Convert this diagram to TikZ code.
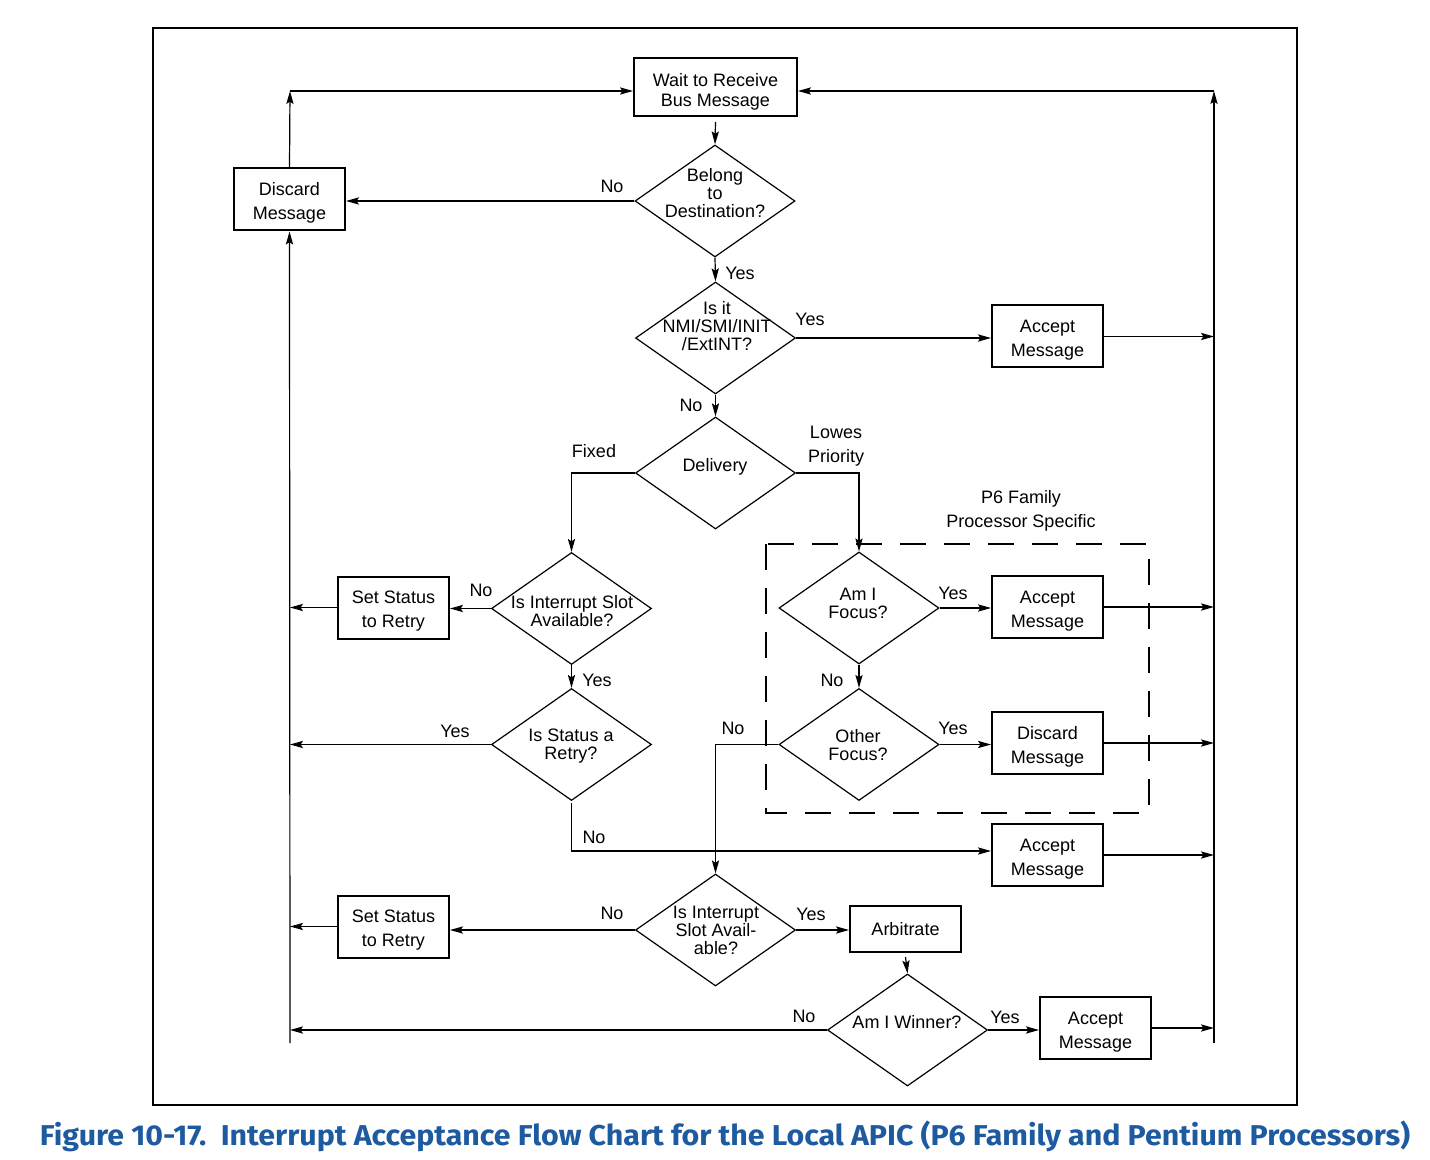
\documentclass[tikz,border=0pt]{standalone}
\usepackage{fontspec}
\usepackage{graphicx}
\setmainfont{Liberation Sans}
\newfontfamily\capfont{Fira Sans}
\usetikzlibrary{shapes.geometric,arrows.meta}
\definecolor{capblue}{RGB}{30,90,160}
\begin{document}
\begin{tikzpicture}[x=0.5pt,y=-0.5pt,
  every node/.style={font=\fontsize{9}{12}\selectfont},
  box/.style={draw, line width=1pt, inner sep=0pt, minimum width=55.5pt, minimum height=31pt, align=center, text height=20pt, text depth=0pt},
  dia/.style={draw, diamond, line width=0.6pt, inner sep=0pt, minimum width=80pt, minimum height=56pt},
  dtxt/.style={align=center, inner sep=0pt, font=\fontsize{9}{9}\selectfont},
  lbl/.style={inner sep=0pt, text height=6.5pt, text depth=0pt},
  arr/.style={line width=0.6pt, -{Stealth[length=6.5pt,width=3.6pt,inset=1.2pt]}},
  ln/.style={line width=0.6pt}]
\useasboundingbox (0,0) rectangle (1430,1160);
% frame
\draw[line width=1pt] (153,28) rectangle (1297,1105);
% dashed region
\draw[line width=1pt, dash pattern=on 13pt off 9pt] (766,544) rectangle (1149,813);
% boxes
\node[box, minimum width=81.5pt, minimum height=29pt, font=\fontsize{9}{10}\selectfont, text height=19.5pt] (wait) at (715.5,87) {Wait to Receive\\Bus Message};
\node[box] (disc1) at (289.5,199.5) {Discard\\Message};
\node[box] (acc1) at (1047.5,336.5) {Accept\\Message};
\node[box] (set1) at (393.5,607.5) {Set Status\\to Retry};
\node[box] (acc2) at (1047.5,607) {Accept\\Message};
\node[box] (disc2) at (1047.5,743) {Discard\\Message};
\node[box] (acc3) at (1047.5,855) {Accept\\Message};
\node[box] (set2) at (393.5,926.5) {Set Status\\to Retry};
\node[box, minimum height=23pt, text height=6.5pt] (arb) at (905.5,929) {Arbitrate};
\node[box] (acc4) at (1095.5,1028) {Accept\\Message};
% diamonds
\node[dia] (belong) at (715,201) {};
\node[dia] (nmi) at (715.5,338) {};
\node[dia] (deliv) at (715.5,473) {};
\node[dia] (islot) at (571.5,608.5) {};
\node[dia] (isstat) at (571.5,744.5) {};
\node[dia] (focus) at (859,608) {};
\node[dia] (other) at (859,744.5) {};
\node[dia] (islot2) at (715.5,930) {};
\node[dia] (win) at (907.5,1030) {};
% diamond texts
\node[dtxt] (tbelong) at (715,193) {Belong\\to\\Destination?};
\node[dtxt] (tnmi) at (717,326) {Is it\\NMI/SMI/INIT\\/ExtINT?};
\node[dtxt] (tdeliv) at (715,467) {Delivery};
\node[dtxt] (tislot) at (572,611) {Is Interrupt Slot\\Available?};
\node[dtxt] (tisstat) at (571,746) {Is Status a\\Retry?};
\node[dtxt] (tfocus) at (858,603) {Am I\\Focus?};
\node[dtxt] (tother) at (858,745) {Other\\Focus?};
\node[dtxt] (tislot2) at (716,930) {Is Interrupt\\Slot Avail-\\able?};
\node[dtxt] (twin) at (907,1022) {Am I Winner?};
% labels
\node[lbl] (l1) at (612,186) {No};
\node[lbl] (l2) at (740,273) {Yes};
\node[lbl] (l3) at (810,319) {Yes};
\node[lbl] (l4) at (691,405) {No};
\node[lbl] (l5) at (594,451) {Fixed};
\node[align=center, inner sep=0pt] (l6) at (836,446) {Lowes\\Priority};
\node[align=center, inner sep=0pt] (l7) at (1021,511) {P6 Family\\Processor Specific};
\node[lbl] (l8) at (481,590) {No};
\node[lbl] (l9) at (597,680) {Yes};
\node[lbl] (l10) at (455,731) {Yes};
\node[lbl] (l11) at (594,837) {No};
\node[lbl] (l12) at (953,593) {Yes};
\node[lbl] (l13) at (832,680) {No};
\node[lbl] (l14) at (733,728) {No};
\node[lbl] (l15) at (953,728) {Yes};
\node[lbl] (l16) at (612,913) {No};
\node[lbl] (l17) at (811,914) {Yes};
\node[lbl] (l18) at (804,1016) {No};
\node[lbl] (l19) at (1005,1017) {Yes};
% bus coordinates
\coordinate (lt) at (290,91);
\coordinate (lb) at (290,1043);
\coordinate (rt) at (1214,91);
\coordinate (rb) at (1214,1043);
% connectors
\draw[arr] ([yshift=-2.5pt]wait.south) -- (belong.north);
\draw[arr] (belong.west) -- (belong.west -| disc1.east);
\draw[arr] (belong.south) -- (nmi.north);
\draw[arr] (nmi.east) -- (nmi.east -| acc1.west);
\draw[arr] (acc1.east) -- (acc1.east -| rt);
\draw[arr] (nmi.south) -- (deliv.north);
\draw[arr] (deliv.west) -| (islot.north);
\draw[arr] (deliv.east) -| (focus.north);
\draw[arr] (islot.west) -- (islot.west -| set1.east);
\draw[arr] (set1.west) -- (set1.west -| lt);
\draw[arr] (islot.south) -- (isstat.north);
\draw[arr] (isstat.west) -- (isstat.west -| lt);
\draw[arr] ([yshift=-1pt]isstat.south) |- ([yshift=2pt]acc3.west);
\draw[arr] (acc3.east) -- (acc3.east -| rt);
\draw[arr] (focus.east) -- (focus.east -| acc2.west);
\draw[arr] (acc2.east) -- (acc2.east -| rt);
\draw[arr] (focus.south) -- (other.north);
\draw[arr] (other.east) -- (other.east -| disc2.west);
\draw[arr] (disc2.east) -- (disc2.east -| rt);
\draw[arr] (other.west) -| (islot2.north);
\draw[arr] (islot2.west) -- (islot2.west -| set2.east);
\draw[arr] (set2.west) -- (set2.west -| lt);
\draw[arr] (islot2.east) -- (islot2.east -| arb.west);
\draw[arr] ([yshift=-2pt]arb.south) -- (win.north);
\draw[arr] (win.west) -- (win.west -| lt);
\draw[arr] (win.east) -- (win.east -| acc4.west);
\draw[arr] (acc4.east) -- (acc4.east -| rt);
% buses
\draw[arr] (lb) -- (disc1.south);
\draw[arr] (disc1.north) -- (lt);
\draw[arr] (lt) -- (lt -| wait.west);
\draw[arr] (rb) -- (rt);
\draw[arr] (rt) -- (rt -| wait.east);
% caption
\node[inner sep=0pt] (cap) at (725,1136.5) {\resizebox*{685pt}{15.5pt}{\capfont\bfseries\color{capblue}Figure 10-17.\ \ Interrupt Acceptance Flow Chart for the Local APIC (P6 Family and Pentium Processors)}};
\end{tikzpicture}
\end{document}
